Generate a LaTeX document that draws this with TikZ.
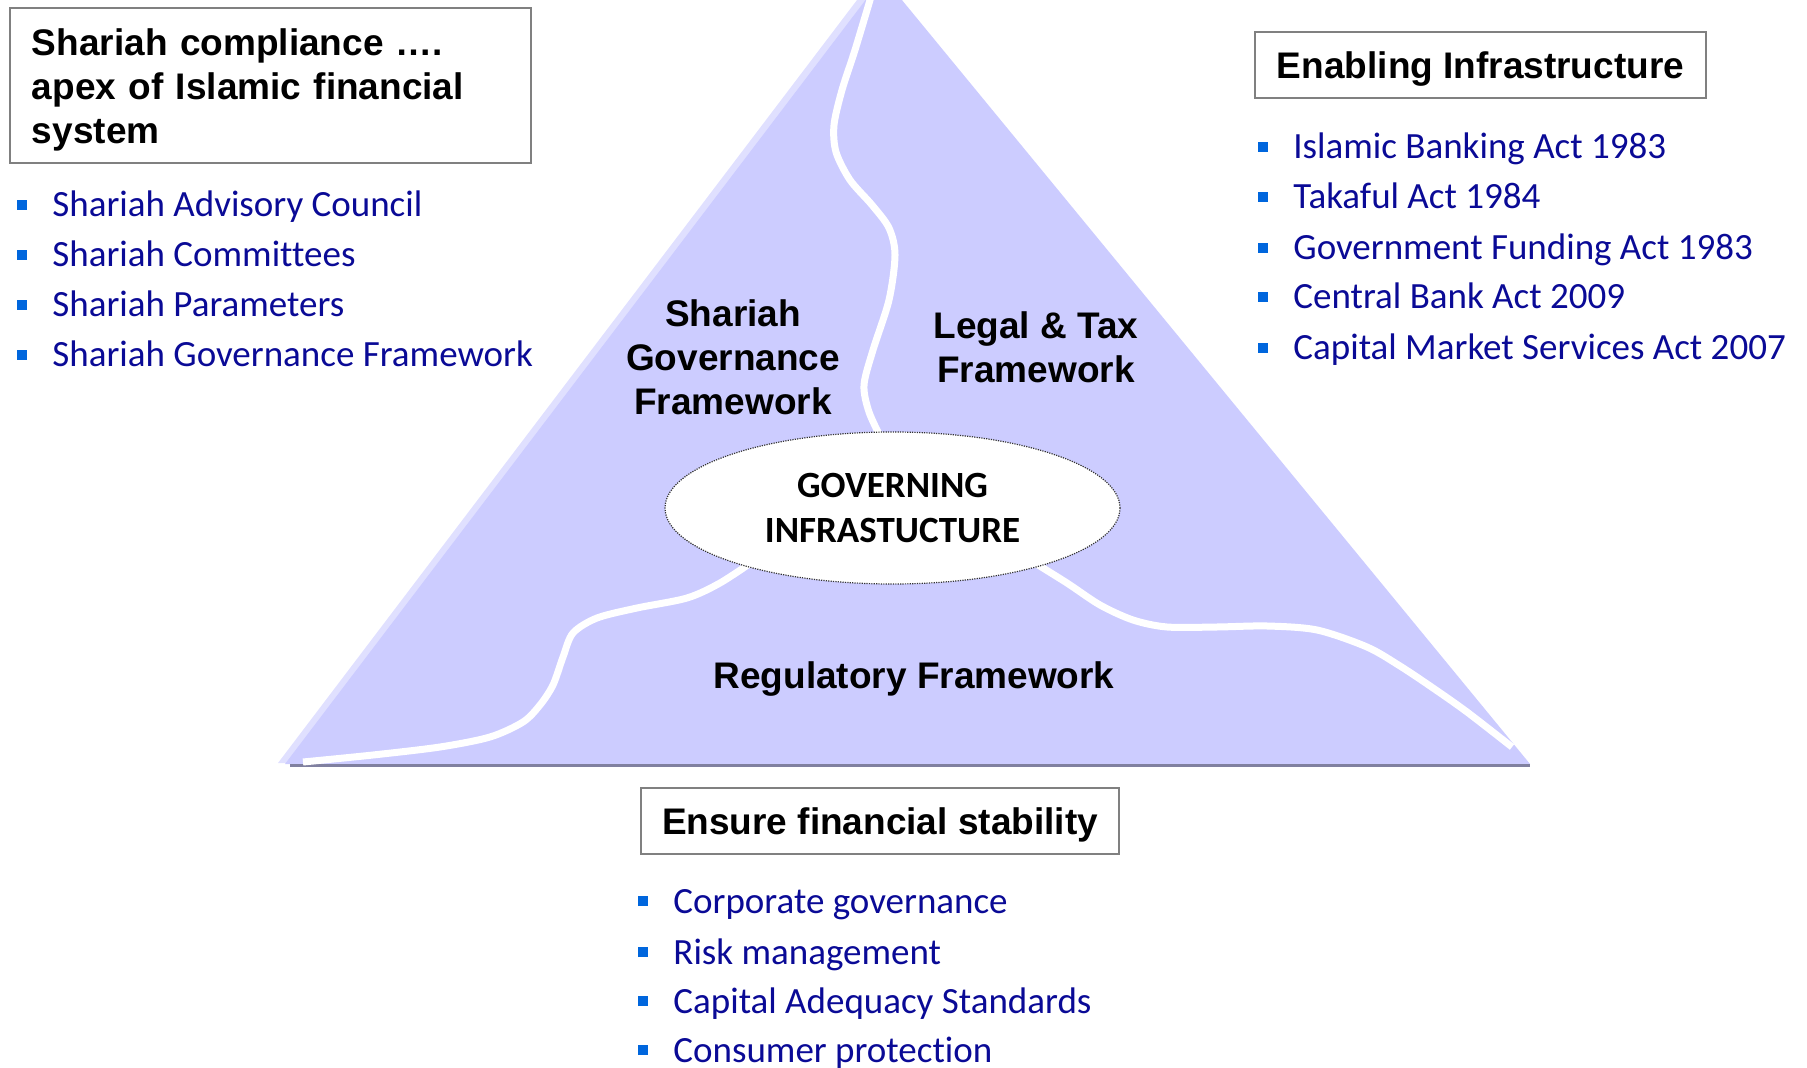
\documentclass[tikz,border=0pt]{standalone}
\usepackage{fontspec}
\setmainfont{Carlito}[Ligatures={NoCommon}]
\newfontfamily\headfont{Liberation Sans}[Ligatures={NoCommon}]
\usetikzlibrary{shapes.geometric}

\definecolor{pyramid}{RGB}{204,204,255}
\definecolor{pyramidedge}{RGB}{224,224,255}
\definecolor{basegray}{RGB}{128,128,160}
\definecolor{itemblue}{RGB}{10,10,150}
\definecolor{bulletblue}{RGB}{0,102,221}
\definecolor{boxgray}{RGB}{128,128,128}

\newcommand{\sqbullet}{{\color{bulletblue}\rule[3.5pt]{5pt}{5pt}}\hspace{12.5pt}}

\tikzset{
  headbox/.style={draw=boxgray, line width=1pt, fill=white, inner sep=0pt,
    font=\headfont\bfseries\fontsize{18.5}{22}\selectfont},
  listitem/.style={anchor=base west, inner sep=0pt, text=itemblue,
    font=\fontsize{18.5}{22}\selectfont},
  region/.style={align=center, font=\headfont\bfseries\fontsize{18.5}{22}\selectfont},
  divider/.style={white, line width=3.5pt},
  hub/.style={ellipse, draw=black!80, line width=0.6pt, dash pattern=on 0.6pt off 0.6pt,
    fill=white, minimum width=227.5pt, minimum height=76pt, inner sep=0pt,
    align=center, font=\bfseries\fontsize{18.5}{22.5}\selectfont},
}

\begin{document}
\begin{tikzpicture}[x=0.5pt,y=-0.5pt]
\useasboundingbox (0,0) rectangle (1807,1068);

% pyramid
\fill[pyramidedge] (278,763) -- (876,-25) -- (1523,763) -- cycle;
\fill[pyramid] (285,764) -- (883,-23) -- (1530,764) -- cycle;
\draw[basegray, line width=1.5pt] (290,765) -- (1530,765);

% white borders between the three parts
\draw[divider] plot[smooth] coordinates {(873,-10) (855,50) (842,90) (834,125) (836,152)
  (850,180) (872,205) (889,228) (895,255) (889,300) (873,350) (864,385) (869,412) (882,440)};
\draw[divider] plot[smooth] coordinates {(303,762) (373,755) (440,747) (490,737) (523,722)
  (540,705) (553,685) (563,657) (573,633) (597,618) (637,608) (687,598) (720,583) (755,560)};
\draw[divider] plot[smooth] coordinates {(1030,560) (1067,583) (1100,605) (1133,620) (1167,627)
  (1217,627) (1267,626) (1317,630) (1367,647) (1400,666) (1433,688) (1467,712) (1512,747)};

\node[hub] (core) at (892.5,508) {GOVERNING\\INFRASTUCTURE};

\node[region] (sgf) at (733,357) {Shariah\\Governance\\Framework};
\node[region] (ltf) at (1036,347) {Legal \& Tax\\Framework};
\node[region] (rf) at (914,679) {Regulatory Framework};

% headings
\node[headbox, anchor=north west, inner xsep=11pt, text width=238.5pt,
  minimum height=77.5pt, align=left] (apex) at (9,7)
  {\rule{0pt}{17.5pt}Shariah compliance ….\\apex of Islamic financial\\system};
\node[headbox, minimum width=225.5pt, minimum height=33pt, text depth=0pt] (enabling) at (1480.5,65)
  {Enabling Infrastructure};
\node[headbox, minimum width=239pt, minimum height=33pt, text depth=0pt] (stability) at (880,821)
  {Ensure financial stability};

% lists
\node[listitem] (sac) at (17,217) {\sqbullet Shariah Advisory Council};
\node[listitem] (sc) at (17,267) {\sqbullet Shariah Committees};
\node[listitem] (sp) at (17,317) {\sqbullet Shariah Parameters};
\node[listitem] (sgfitem) at (17,367) {\sqbullet Shariah Governance Framework};

\node[listitem] (iba) at (1258,159) {\sqbullet Islamic Banking Act 1983};
\node[listitem] (ta) at (1258,209) {\sqbullet Takaful Act 1984};
\node[listitem] (gfa) at (1258,260) {\sqbullet Government Funding Act 1983};
\node[listitem] (cba) at (1258,309) {\sqbullet Central Bank Act 2009};
\node[listitem] (cmsa) at (1258,360) {\sqbullet Capital Market Services Act 2007};

\node[listitem] (cg) at (638,913) {\sqbullet Corporate governance};
\node[listitem] (rm) at (638,964) {\sqbullet Risk management};
\node[listitem] (cas) at (638,1013) {\sqbullet Capital Adequacy Standards};
\node[listitem] (cp) at (638,1062) {\sqbullet Consumer protection};
\end{tikzpicture}
\end{document}
